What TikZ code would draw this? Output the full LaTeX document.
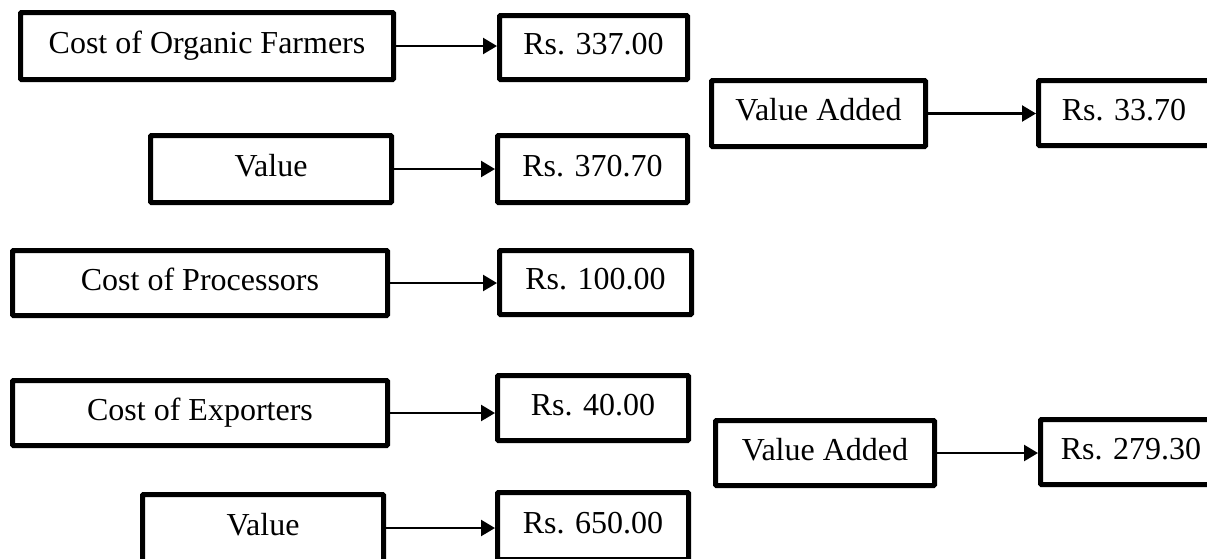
\documentclass[tikz,border=0pt]{standalone}
\usepackage{fontspec}
\setmainfont{Liberation Serif}
\usetikzlibrary{arrows.meta}

\tikzset{
  box/.style={draw=black, line width=5pt, rounded corners=1pt, fill=white,
    inner sep=0pt, text height=21.9pt, text depth=7pt,
    font=\fontsize{32}{38}\selectfont},
  link/.style={draw=black, line width=2.4pt,
    -{Triangle[length=14pt,width=16pt]}}
}

\begin{document}
\begin{tikzpicture}[x=1pt, y=-1pt]
  \clip (0,0) rectangle (1207,558);
  \fill[white] (0,0) rectangle (1207,558);

  % left column: cost / value chain
  \node[box, minimum width=373pt, minimum height=67pt] (c1) at (207,46)    {Cost of Organic Farmers};
  \node[box, minimum width=188pt, minimum height=64pt] (r1) at (593.5,47.5) {Rs. 337.00};
  \node[box, minimum width=241pt, minimum height=67pt] (c2) at (271,169)   {Value};
  \node[box, minimum width=190pt, minimum height=67pt] (r2) at (592.5,169) {Rs. 370.70};
  \node[box, minimum width=375pt, minimum height=65pt] (c3) at (200,283)   {Cost of Processors};
  \node[box, minimum width=192pt, minimum height=64pt] (r3) at (595.5,282.5) {Rs. 100.00};
  \node[box, minimum width=375pt, minimum height=65pt] (c4) at (200,413)   {Cost of Exporters};
  \node[box, minimum width=191pt, minimum height=65pt] (r4) at (593,408)   {Rs. 40.00};
  \node[box, minimum width=241pt, minimum height=67pt] (c5) at (263,528)   {Value};
  \node[box, minimum width=191pt, minimum height=67pt] (r5) at (593,526)   {Rs. 650.00};

  % right column: value added
  \node[box, minimum width=214pt, minimum height=66pt] (v1) at (818.5,113.5) {Value Added};
  \node[box, minimum width=171pt, minimum height=65pt] (s1) at (1124,113)    {Rs. 33.70};
  \node[box, minimum width=219pt, minimum height=65pt] (v2) at (825,453)     {Value Added};
  \node[box, minimum width=181pt, minimum height=65pt] (s2) at (1131,452)    {Rs. 279.30};

  % connectors
  \draw[link] (c1.east) -- (c1.east -| r1.west);
  \draw[link] (c2.east) -- (c2.east -| r2.west);
  \draw[link] (c3.east) -- (c3.east -| r3.west);
  \draw[link] (c4.east) -- (c4.east -| r4.west);
  \draw[link] (c5.east) -- (c5.east -| r5.west);
  \draw[link] (v1.east) -- (v1.east -| s1.west);
  \draw[link] (v2.east) -- (v2.east -| s2.west);
\end{tikzpicture}
\end{document}
